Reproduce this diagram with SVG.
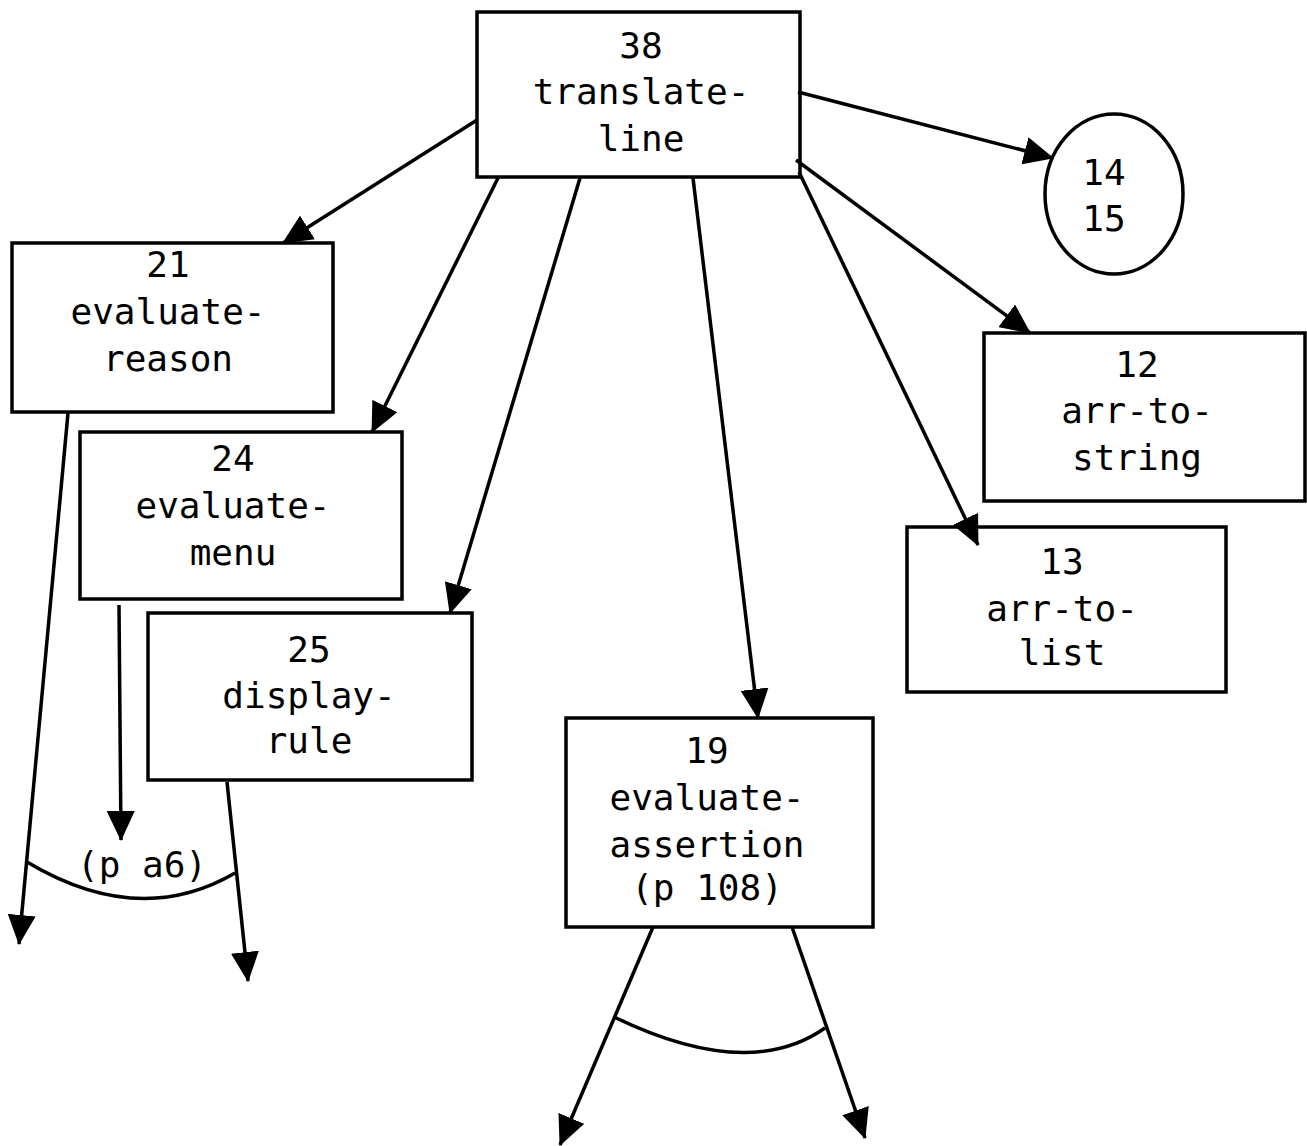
<svg xmlns="http://www.w3.org/2000/svg" width="1307" height="1146" viewBox="0 0 1307 1146">
  <style>
    .box { fill: #fff; stroke: #000; stroke-width: 3.5; }
    .lbl { font-family: "DejaVu Sans Mono", "Liberation Mono", monospace; font-size: 36px; fill: #000; text-anchor: middle; }
    .edge { fill: none; stroke: #000; stroke-width: 3.5; marker-end: url(#arrow); }
    .arc { fill: none; stroke: #000; stroke-width: 3.5; }
  </style>
  <defs>
    <marker id="arrow" markerUnits="userSpaceOnUse" viewBox="0 0 30 28" markerWidth="30" markerHeight="28" refX="29" refY="14" orient="auto">
      <path d="M0,0 L30,14 L0,28 z" fill="#000"/>
    </marker>
  </defs>
  <rect width="1307" height="1146" fill="#fff"/>

  <g id="node-38">
    <rect class="box" x="477" y="12" width="323" height="165"/>
    <text class="lbl" x="641" y="58">38</text>
    <text class="lbl" x="641" y="104">translate-</text>
    <text class="lbl" x="641" y="151">line</text>
  </g>
  <g id="node-21">
    <rect class="box" x="12" y="243" width="321" height="169"/>
    <text class="lbl" x="168" y="277">21</text>
    <text class="lbl" x="168" y="324">evaluate-</text>
    <text class="lbl" x="168" y="371">reason</text>
  </g>
  <g id="node-24">
    <rect class="box" x="80" y="432" width="322" height="167"/>
    <text class="lbl" x="233" y="471">24</text>
    <text class="lbl" x="233" y="518">evaluate-</text>
    <text class="lbl" x="233" y="565">menu</text>
  </g>
  <g id="node-25">
    <rect class="box" x="148" y="613" width="324" height="167"/>
    <text class="lbl" x="309" y="662">25</text>
    <text class="lbl" x="309" y="708">display-</text>
    <text class="lbl" x="309" y="753">rule</text>
  </g>
  <g id="node-19">
    <rect class="box" x="566" y="718" width="307" height="209"/>
    <text class="lbl" x="707" y="763">19</text>
    <text class="lbl" x="707" y="810">evaluate-</text>
    <text class="lbl" x="707" y="857">assertion</text>
    <text class="lbl" x="707" y="900">(p 108)</text>
  </g>
  <g id="node-14-15">
    <ellipse class="box" cx="1114" cy="194" rx="69" ry="80"/>
    <text class="lbl" x="1104" y="185">14</text>
    <text class="lbl" x="1104" y="231">15</text>
  </g>
  <g id="node-12">
    <rect class="box" x="984" y="333" width="321" height="168"/>
    <text class="lbl" x="1137" y="377">12</text>
    <text class="lbl" x="1137" y="423">arr-to-</text>
    <text class="lbl" x="1137" y="470">string</text>
  </g>
  <g id="node-13">
    <rect class="box" x="907" y="527" width="319" height="165"/>
    <text class="lbl" x="1062" y="574">13</text>
    <text class="lbl" x="1062" y="621">arr-to-</text>
    <text class="lbl" x="1062" y="665">list</text>
  </g>

  <g id="connectors">
    <path class="edge" d="M477,120 L283,243"/>
    <path class="edge" d="M498,178 L372,432"/>
    <path class="edge" d="M580,178 L450,613"/>
    <path class="edge" d="M693,178 L758,718"/>
    <path class="edge" d="M799,172 L978,545"/>
    <path class="edge" d="M796,160 L1030,333"/>
    <path class="edge" d="M798,92 L1053,158"/>
    <path class="edge" d="M68,413 L19,944"/>
    <path class="edge" d="M119,605 L121,840"/>
    <path class="edge" d="M227,782 L248,981"/>
    <path class="edge" d="M653,927 L560,1145"/>
    <path class="edge" d="M792,927 L865,1138"/>
    <path class="arc" d="M27,862 Q139,929 235,873"/>
    <path class="arc" d="M614,1017 Q748,1082 825,1028"/>
    <text class="lbl" x="142" y="877">(p a6)</text>
  </g>
</svg>
